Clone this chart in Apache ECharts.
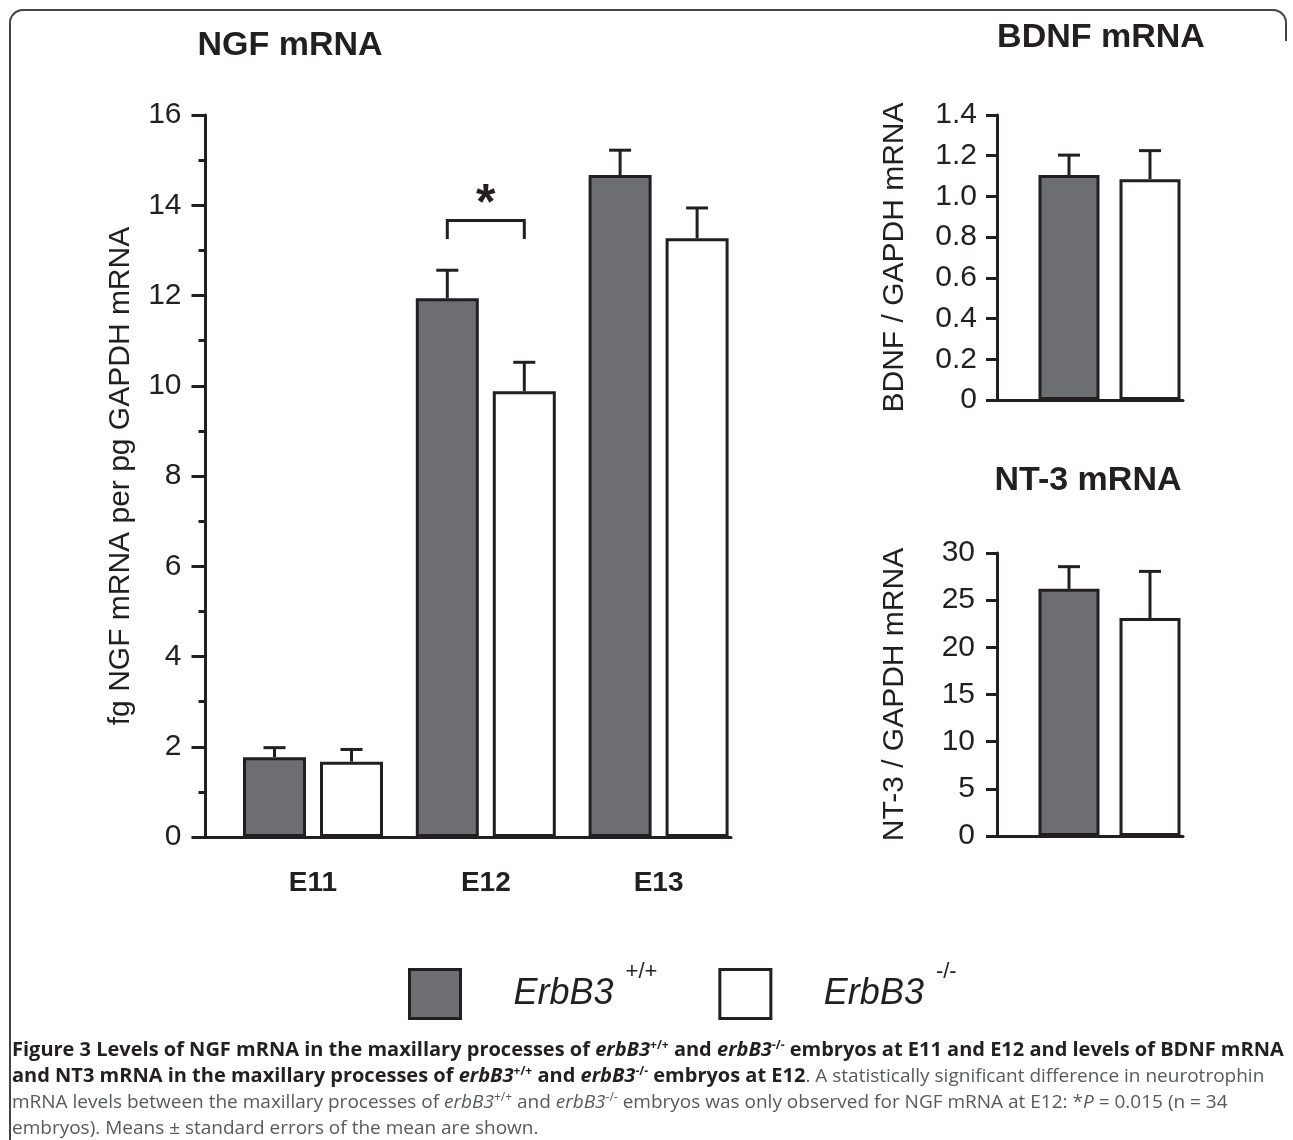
<!DOCTYPE html>
<html><head><meta charset="utf-8">
<script src="https://cdn.jsdelivr.net/npm/echarts@6/dist/echarts.min.js"></script>
<style>
html,body{margin:0;padding:0;background:#fff;}
#wrap{position:relative;width:1293px;height:1140px;overflow:hidden;background:#fff;}
#chart{position:absolute;left:0;top:0;width:1293px;height:1140px;}
#frame{position:absolute;left:9px;top:9px;width:1260px;height:1200px;border-top:2px solid #444;border-left:2px solid #444;border-radius:14px 0 0 0;pointer-events:none;}
#corner{position:absolute;left:1269px;top:9px;width:16px;height:30px;border-top:2px solid #444;border-right:2px solid #444;border-radius:0 14px 0 0;pointer-events:none;}
#caption{position:absolute;left:12px;top:1036px;width:1280px;font-family:'Open Sans',sans-serif;font-size:19px;line-height:26px;color:#58595b;white-space:nowrap;}
#caption b{color:#231f20;font-size:20px;}
#caption sup{font-size:12px;line-height:0;vertical-align:7px;}
</style></head>
<body>
<div id="wrap">
<div id="chart"></div>
<div id="frame"></div>
<div id="corner"></div>
<div id="caption"><b>Figure 3 Levels of NGF mRNA in the maxillary processes of <i>erbB3</i><sup>+/+</sup> and <i>erbB3</i><sup>-/-</sup> embryos at E11 and E12 and levels of BDNF mRNA</b><br><b>and NT3 mRNA in the maxillary processes of <i>erbB3</i><sup>+/+</sup> and <i>erbB3</i><sup>-/-</sup> embryos at E12</b>. A statistically significant difference in neurotrophin<br>mRNA levels between the maxillary processes of <i>erbB3</i><sup>+/+</sup> and <i>erbB3</i><sup>-/-</sup> embryos was only observed for NGF mRNA at E12: *<i>P</i> = 0.015 (n = 34<br>embryos). Means ± standard errors of the mean are shown.</div>
</div>
<script>
// ---- data ----
const categories = ['E11', 'E12', 'E13'];
const seriesNames = ['ErbB3 +/+', 'ErbB3 -/-'];
const ngfWT = [1.77, 11.94, 14.67];
const ngfWTse = [0.21, 0.62, 0.55];
const ngfKO = [1.67, 9.88, 13.27];
const ngfKOse = [0.27, 0.64, 0.67];
const bdnfWT = [1.105];
const bdnfWTse = [0.098];
const bdnfKO = [1.085];
const bdnfKOse = [0.14];
const nt3WT = [26.2];
const nt3WTse = [2.35];
const nt3KO = [23.1];
const nt3KOse = [4.95];
const ngfTicks = {min: 0, max: 16, interval: 2};
const bdnfTicks = {min: 0, max: 1.4, interval: 0.2};
const nt3Ticks = {min: 0, max: 30, interval: 5};
const sigBracket = {category: 1, top: 13.66, leg: 13.25, label: '*'};

// ---- style ----
const INK = '#231f20';
const GREY = '#6d6e71';
const FONT = 'Liberation Sans, Arial, sans-serif';
const NGF_BAR_W = 63, NGF_GAP = 14;
const SIDE_BAR_W = 61, SIDE_GAP = 20;

const chart = echarts.init(document.getElementById('chart'), null, {renderer: 'canvas'});

function axisGridX(gridIndex) {
  return {type: 'value', gridIndex, min: 0, max: 1,
    axisLine: {show: true, onZero: false, lineStyle: {color: INK, width: 3}},
    axisTick: {show: false}, axisLabel: {show: false}, splitLine: {show: false}};
}
function barGridX(gridIndex, data, showLabels) {
  return {type: 'category', gridIndex, data,
    axisLine: {show: false}, axisTick: {show: false},
    axisLabel: {show: showLabels, fontFamily: FONT, fontSize: 28, fontWeight: 'bold', color: INK, margin: 32},
    splitLine: {show: false}};
}
function valueY(gridIndex, ticks, name, nameGap, tickLen, minor, margin, fmt) {
  return {type: 'value', gridIndex, min: ticks.min, max: ticks.max, interval: ticks.interval,
    axisLine: {show: true, lineStyle: {color: INK, width: 3}},
    axisTick: {show: true, length: tickLen, lineStyle: {color: INK, width: 3}},
    minorTick: {show: minor, splitNumber: 2, length: tickLen / 2, lineStyle: {color: INK, width: 3}},
    splitLine: {show: false}, minorSplitLine: {show: false},
    axisLabel: {fontFamily: FONT, fontSize: 30, color: INK, margin, formatter: fmt},
    name, nameLocation: 'middle', nameRotate: 90, nameGap,
    nameTextStyle: {fontFamily: FONT, fontSize: 30, color: INK}};
}
function hiddenY(gridIndex, ticks) {
  return {type: 'value', gridIndex, min: ticks.min, max: ticks.max, show: false, splitLine: {show: false}};
}
function barSeries(name, xi, yi, data, fill, w, gap) {
  return {type: 'bar', name, xAxisIndex: xi, yAxisIndex: yi, data,
    barWidth: w, barGap: (gap / w * 100).toFixed(1) + '%',
    itemStyle: {color: fill, borderColor: INK, borderWidth: 3},
    emphasis: {disabled: true}, z: 2};
}
function errSeries(xi, yi, means, ses, side, w, gap) {
  return {type: 'custom', xAxisIndex: xi, yAxisIndex: yi, silent: true, z: 5,
    data: means.map((m, i) => [i, m, ses[i]]),
    encode: {x: 0, y: 1},
    renderItem: function (params, api) {
      const c = api.value(0), m = api.value(1), s = api.value(2);
      const p0 = api.coord([c, m]);
      const p1 = api.coord([c, m + s]);
      const x = p0[0] + side * (w + gap) / 2;
      return {type: 'group', children: [
        {type: 'line', shape: {x1: x, y1: p0[1], x2: x, y2: p1[1]}, style: {stroke: INK, lineWidth: 3}},
        {type: 'line', shape: {x1: x - 11, y1: p1[1], x2: x + 11, y2: p1[1]}, style: {stroke: INK, lineWidth: 3}}
      ]};
    }};
}
const bracketSeries = {
  type: 'custom', xAxisIndex: 1, yAxisIndex: 1, silent: true, z: 6,
  data: [[sigBracket.category, sigBracket.top, sigBracket.leg]],
  encode: {x: 0, y: 1},
  renderItem: function (params, api) {
    const c = api.value(0);
    const pt = api.coord([c, api.value(1)]);
    const pl = api.coord([c, api.value(2)]);
    const dx = (NGF_BAR_W + NGF_GAP) / 2;
    return {type: 'group', children: [
      {type: 'polyline', shape: {points: [[pt[0] - dx, pl[1]], [pt[0] - dx, pt[1]], [pt[0] + dx, pt[1]], [pt[0] + dx, pl[1]]]},
        style: {stroke: INK, lineWidth: 3, fill: null}},
      {type: 'text', x: pt[0], y: pt[1] - 40,
        style: {text: sigBracket.label, fill: INK, font: 'bold 50px ' + FONT, textAlign: 'center', textVerticalAlign: 'top'}}
    ]};
  }
};

const titleStyle = {fontFamily: FONT, fontSize: 34, fontWeight: 'bold', color: INK};
const option = {
  animation: false,
  backgroundColor: '#fff',
  title: [
    {text: 'NGF mRNA', left: 290, top: 29, textAlign: 'center', padding: 0, textStyle: titleStyle},
    {text: 'BDNF mRNA', left: 1101, top: 21, textAlign: 'center', padding: 0, textStyle: titleStyle},
    {text: 'NT-3 mRNA', left: 1088, top: 464, textAlign: 'center', padding: 0, textStyle: titleStyle}
  ],
  grid: [
    {left: 205.5, top: 115, width: 525.5, height: 722, outerBoundsMode: 'none'},
    {left: 226.6, top: 115, width: 518.4, height: 722, outerBoundsMode: 'none'},
    {left: 997, top: 115, width: 186, height: 285, outerBoundsMode: 'none'},
    {left: 1038, top: 115, width: 143, height: 285, outerBoundsMode: 'none'},
    {left: 997, top: 553, width: 186, height: 283, outerBoundsMode: 'none'},
    {left: 1038, top: 553, width: 143, height: 283, outerBoundsMode: 'none'}
  ],
  xAxis: [
    axisGridX(0), barGridX(1, categories, true),
    axisGridX(2), barGridX(3, ['E12'], false),
    axisGridX(4), barGridX(5, ['E12'], false)
  ],
  yAxis: [
    valueY(0, ngfTicks, 'fg NGF mRNA per pg GAPDH mRNA', 70, 14, true, 24),
    hiddenY(1, ngfTicks),
    valueY(2, bdnfTicks, 'BDNF / GAPDH mRNA', 87, 11, false, 20, v => v === 0 ? '0' : v.toFixed(1)),
    hiddenY(3, bdnfTicks),
    valueY(4, nt3Ticks, 'NT-3 / GAPDH mRNA', 87, 11, false, 22),
    hiddenY(5, nt3Ticks)
  ],
  legend: {
    data: seriesNames, selectedMode: false, left: 408, top: 961, padding: 0,
    itemWidth: 51, itemHeight: 49, itemGap: 61, icon: 'rect',
    itemStyle: {borderWidth: 3, borderColor: INK},
    formatter: n => '{g|ErbB3}{s|' + n.split(' ')[1] + '}',
    textStyle: {padding: [0, 0, 0, 48], rich: {
      g: {fontFamily: FONT, fontSize: 36, fontStyle: 'italic', color: INK, lineHeight: 66},
      s: {fontFamily: FONT, fontSize: 22, color: INK, lineHeight: 24, verticalAlign: 'top', padding: [0, 0, 0, 12]}
    }}
  },
  series: [
    barSeries(seriesNames[0], 1, 1, ngfWT, GREY, NGF_BAR_W, NGF_GAP),
    barSeries(seriesNames[1], 1, 1, ngfKO, '#ffffff', NGF_BAR_W, NGF_GAP),
    errSeries(1, 1, ngfWT, ngfWTse, -1, NGF_BAR_W, NGF_GAP),
    errSeries(1, 1, ngfKO, ngfKOse, 1, NGF_BAR_W, NGF_GAP),
    bracketSeries,
    barSeries(seriesNames[0], 3, 3, bdnfWT, GREY, SIDE_BAR_W, SIDE_GAP),
    barSeries(seriesNames[1], 3, 3, bdnfKO, '#ffffff', SIDE_BAR_W, SIDE_GAP),
    errSeries(3, 3, bdnfWT, bdnfWTse, -1, SIDE_BAR_W, SIDE_GAP),
    errSeries(3, 3, bdnfKO, bdnfKOse, 1, SIDE_BAR_W, SIDE_GAP),
    barSeries(seriesNames[0], 5, 5, nt3WT, GREY, SIDE_BAR_W, SIDE_GAP),
    barSeries(seriesNames[1], 5, 5, nt3KO, '#ffffff', SIDE_BAR_W, SIDE_GAP),
    errSeries(5, 5, nt3WT, nt3WTse, -1, SIDE_BAR_W, SIDE_GAP),
    errSeries(5, 5, nt3KO, nt3KOse, 1, SIDE_BAR_W, SIDE_GAP)
  ]
};
chart.setOption(option);
</script>
</body></html>
